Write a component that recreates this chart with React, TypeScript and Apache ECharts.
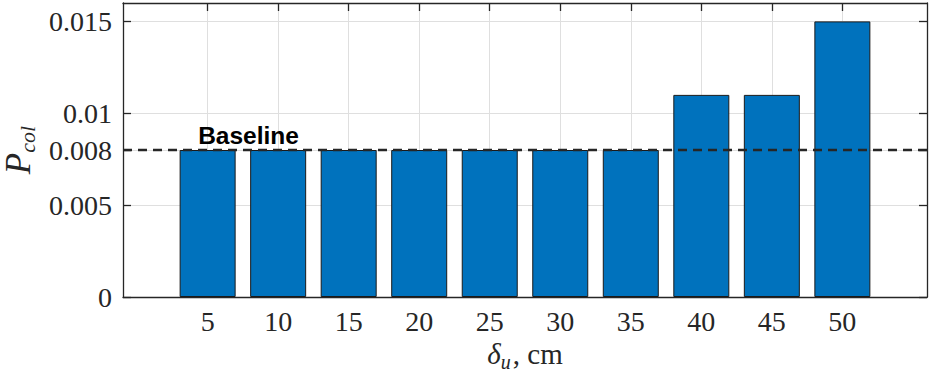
import React, { useEffect, useRef } from 'react';
import * as echarts from 'echarts';

const categories = [5, 10, 15, 20, 25, 30, 35, 40, 45, 50];
const collisionProb = [0.008, 0.008, 0.008, 0.008, 0.008, 0.008, 0.008, 0.011, 0.011, 0.015];
const baselineValue = 0.008;
const baselineLabel = 'Baseline';
const baselineLabelAt = 7.9;
const xRange = [-1, 56];
const yRange = [0, 0.016];
const yTicks = [0, 0.005, 0.008, 0.01, 0.015];
const yTickLabels = ['0', '0.005', '0.008', '0.01', '0.015'];

const AX = '#262626';
const GRID = '#dfdfdf';
const SERIF = '"Liberation Serif", "DejaVu Serif", serif';

export default function App() {
  const ref = useRef<HTMLDivElement>(null);
  useEffect(() => {
    if (!ref.current) return;
    const chart = echarts.init(ref.current, undefined, { renderer: 'svg' });
    const yLabel = (v: number) => {
      const i = yTicks.findIndex((t) => Math.abs(t - v) < 1e-9);
      return i >= 0 ? yTickLabels[i] : '';
    };
    const xBase = {
      type: 'value' as const,
      min: xRange[0],
      max: xRange[1],
      axisLine: { show: true, onZero: false, lineStyle: { color: AX, width: 1.3 } },
      axisTick: { show: true, inside: true, length: 8, customValues: categories, lineStyle: { color: AX, width: 1.3 } },
    };
    const yBase = {
      type: 'value' as const,
      min: yRange[0],
      max: yRange[1],
      axisLine: { show: true, onZero: false, lineStyle: { color: AX, width: 1.3 } },
      axisTick: { show: true, inside: true, length: 8, customValues: yTicks, lineStyle: { color: AX, width: 1.3 } },
    };
    chart.setOption({
      animation: false,
      grid: { left: 123, right: 10, top: 3, bottom: 80, containLabel: false, outerBoundsMode: 'none' },
      xAxis: [
        {
          ...xBase,
          position: 'bottom',
          axisLabel: {
            customValues: categories,
            margin: 10,
            fontFamily: SERIF,
            fontSize: 28,
            color: AX,
          },
          splitLine: { show: true, lineStyle: { color: GRID, width: 1 } },
          name: '{d|δ}{s|u}{n|, cm}',
          nameLocation: 'middle',
          nameGap: 42,
          nameTextStyle: {
            rich: {
              d: { fontFamily: SERIF, fontStyle: 'italic', fontSize: 29, color: AX, lineHeight: 30, verticalAlign: 'middle' },
              s: { fontFamily: SERIF, fontStyle: 'italic', fontSize: 20, color: AX, lineHeight: 20, verticalAlign: 'bottom', padding: [0, 2, -3, 0] },
              n: { fontFamily: SERIF, fontSize: 29, color: AX, lineHeight: 30, verticalAlign: 'middle' },
            },
          },
        },
        {
          ...xBase,
          position: 'top',
          axisLabel: { show: false },
          splitLine: { show: false },
        },
      ],
      yAxis: [
        {
          ...yBase,
          position: 'left',
          axisLabel: {
            customValues: yTicks,
            formatter: yLabel,
            margin: 11,
            fontFamily: SERIF,
            fontSize: 28,
            color: AX,
          },
          splitLine: { show: true, lineStyle: { color: GRID, width: 1 } },
          name: '{p|P}{s|col}',
          nameLocation: 'middle',
          nameGap: 82,
          nameRotate: 90,
          nameTextStyle: {
            rich: {
              p: { fontFamily: SERIF, fontStyle: 'italic', fontSize: 35, color: AX, lineHeight: 34, verticalAlign: 'middle' },
              s: { fontFamily: SERIF, fontStyle: 'italic', fontSize: 22, color: AX, lineHeight: 22, verticalAlign: 'bottom', padding: [0, 0, -3, 0] },
            },
          },
        },
        {
          ...yBase,
          position: 'right',
          axisLabel: { show: false },
          splitLine: { show: false },
        },
      ],
      series: [
        {
          type: 'bar',
          xAxisIndex: 0,
          yAxisIndex: 0,
          barWidth: 56,
          data: categories.map((c, i) => [c, collisionProb[i]]),
          itemStyle: { color: '#0072BD', borderColor: '#1a1a1a', borderWidth: 1 },
          markPoint: {
            silent: true,
            symbol: 'circle',
            symbolSize: 0,
            data: [{ coord: [baselineLabelAt, baselineValue] }],
            label: {
              show: true,
              position: 'top',
              distance: 2,
              formatter: baselineLabel,
              fontFamily: '"Liberation Sans", Arial, sans-serif',
              fontWeight: 'bold',
              fontSize: 24.5,
              color: '#000',
            },
          },
        },
        {
          type: 'line',
          xAxisIndex: 0,
          yAxisIndex: 0,
          silent: true,
          symbol: 'none',
          z: 5,
          data: [
            [xRange[0], baselineValue],
            [xRange[1], baselineValue],
          ],
          lineStyle: { type: [9, 6], width: 2.6, color: AX },
        },
      ],
    });
    return () => chart.dispose();
  }, []);
  return (
    <div
      ref={ref}
      style={{ position: 'fixed', left: 0, top: 0, width: 937, height: 377, background: '#fff' }}
    />
  );
}
